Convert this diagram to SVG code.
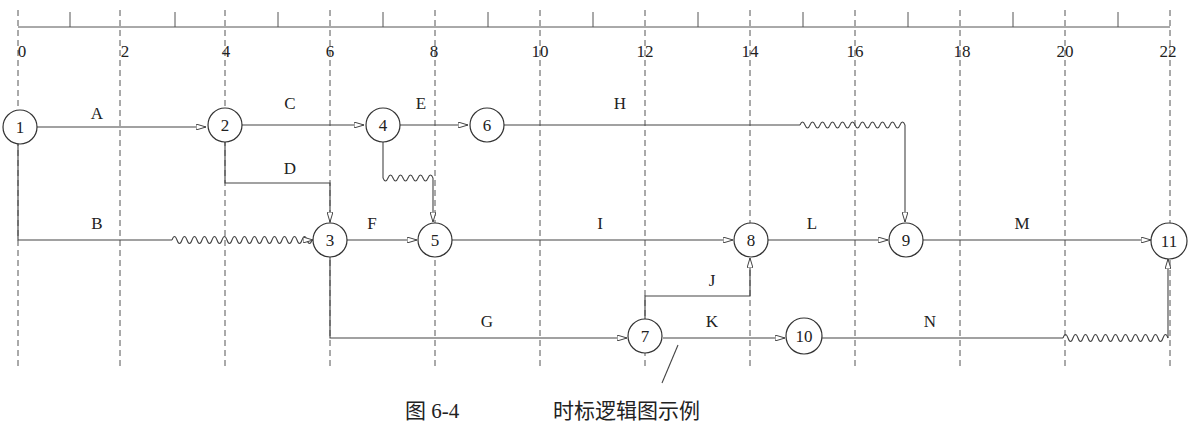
<svg xmlns="http://www.w3.org/2000/svg" width="1195" height="443" viewBox="0 0 1195 443">
<defs>
<marker id="ar" markerWidth="10" markerHeight="6" refX="10" refY="3" orient="auto" markerUnits="userSpaceOnUse"><path d="M0,0 L10,3 L0,6 Z" fill="#fff" stroke="#444" stroke-width="1"/></marker>
</defs>
<style>
.g{stroke:#555;stroke-width:1;stroke-dasharray:6,4;fill:none}
.t{stroke:#555;stroke-width:1;fill:none}
.e{stroke:#444;stroke-width:1.1;fill:none}
.w{stroke:#444;stroke-width:1.1;fill:none}
.n circle{fill:#fff;stroke:#333;stroke-width:1.2}
text{font-family:"Liberation Serif",serif;font-size:17px;fill:#222}
.lb{text-anchor:middle}
.cap{font-family:"Liberation Serif","Noto Sans CJK SC",serif;font-size:21px}
</style>
<rect width="1195" height="443" fill="#fff"/>
<g id="grid">
<path class="t" d="M18,27 H1170"/>
<path class="t" d="M70,12 V27 M175,12 V27 M278,12 V27 M383,12 V27 M488,12 V27 M593,12 V27 M698,12 V27 M803,12 V27 M908,12 V27 M1013,12 V27 M1118,12 V27"/>
<path class="g" d="M18,10 V370 M120,10 V370 M225,10 V370 M330,10 V370 M435,10 V370 M540,10 V370 M645,10 V370 M750,10 V370 M855,10 V370 M960,10 V370 M1065,10 V370 M1170,10 V370"/>
<text x="22" y="57" class="lb">0</text><text x="125" y="57" class="lb">2</text><text x="226" y="57" class="lb">4</text><text x="330" y="57" class="lb">6</text><text x="434" y="57" class="lb">8</text><text x="540" y="57" class="lb">10</text><text x="645" y="57" class="lb">12</text><text x="750" y="57" class="lb">14</text><text x="855" y="57" class="lb">16</text><text x="962" y="57" class="lb">18</text><text x="1065" y="57" class="lb">20</text><text x="1168" y="57" class="lb">22</text>
</g>
<g id="connectors">
<path class="e" d="M37,127 H206" marker-end="url(#ar)"/>
<path class="e" d="M242,125 H364" marker-end="url(#ar)"/>
<path class="e" d="M400,125 H468" marker-end="url(#ar)"/>
<path class="e" d="M504,125 H800"/>
<path class="w" d="M800,125 q2.5,-6 5,0 t5,0 t5,0 t5,0 t5,0 t5,0 t5,0 t5,0 t5,0 t5,0 t5,0 t5,0 t5,0 t5,0 t5,0 t5,0 t5,0 t5,0 t5,0 t5,0 t5,0"/>
<path class="e" d="M905,125 V222" marker-end="url(#ar)"/>
<path class="e" d="M225,142 V183 H330 V222" marker-end="url(#ar)"/>
<path class="e" d="M383,142 V178"/>
<path class="w" d="M383,178 q2.5,6 5,0 t5,0 t5,0 t5,0 t5,0 t5,0 t5,0 t5,0 t5,0 t5,0"/>
<path class="e" d="M433,178 V222" marker-end="url(#ar)"/>
<path class="e" d="M18,144 V240 H172"/>
<path class="w" d="M172,240 q2.5,-7 5,0 t5,0 t5,0 t5,0 t5,0 t5,0 t5,0 t5,0 t5,0 t5,0 t5,0 t5,0 t5,0 t5,0 t5,0 t5,0 t5,0 t5,0 t5,0 t5,0 t5,0 t5,0 t5,0 t5,0 t5,0 t5,0 t5,0 t5,0"/>
<path class="e" d="M312,240 H313" marker-end="url(#ar)"/>
<path class="e" d="M347,240 H417" marker-end="url(#ar)"/>
<path class="e" d="M452,240 H733" marker-end="url(#ar)"/>
<path class="e" d="M768,240 H888" marker-end="url(#ar)"/>
<path class="e" d="M923,240 H1151" marker-end="url(#ar)"/>
<path class="e" d="M330,257 V338 H627" marker-end="url(#ar)"/>
<path class="e" d="M645,320 V296 H750 V258" marker-end="url(#ar)"/>
<path class="e" d="M663,338 H785" marker-end="url(#ar)"/>
<path class="e" d="M821,338 H1063"/>
<path class="w" d="M1063,338 q2.5,-7 5,0 t5,0 t5,0 t5,0 t5,0 t5,0 t5,0 t5,0 t5,0 t5,0 t5,0 t5,0 t5,0 t5,0 t5,0 t5,0 t5,0 t5,0 t5,0 t5,0 t5,0"/>
<path class="e" d="M1168,338 V259" marker-end="url(#ar)"/>
<path class="e" d="M662,383 L678,345"/>
</g>
<g id="labels">
<text x="97" y="119" class="lb">A</text><text x="290" y="109" class="lb">C</text><text x="421" y="109" class="lb">E</text><text x="620" y="109" class="lb">H</text>
<text x="290" y="174" class="lb">D</text><text x="97" y="229" class="lb">B</text><text x="372" y="229" class="lb">F</text><text x="600" y="229" class="lb">I</text>
<text x="812" y="229" class="lb">L</text><text x="1022" y="229" class="lb">M</text><text x="712" y="286" class="lb">J</text><text x="487" y="327" class="lb">G</text>
<text x="712" y="327" class="lb">K</text><text x="930" y="327" class="lb">N</text>
</g>
<g id="n1" class="n"><circle cx="20" cy="127" r="17"/><text x="20" y="133" class="lb">1</text></g>
<g id="n2" class="n"><circle cx="225" cy="125" r="17"/><text x="225" y="131" class="lb">2</text></g>
<g id="n4" class="n"><circle cx="383" cy="125" r="17"/><text x="383" y="131" class="lb">4</text></g>
<g id="n6" class="n"><circle cx="487" cy="125" r="17"/><text x="487" y="131" class="lb">6</text></g>
<g id="n3" class="n"><circle cx="330" cy="240" r="17"/><text x="330" y="246" class="lb">3</text></g>
<g id="n5" class="n"><circle cx="435" cy="240" r="17"/><text x="435" y="246" class="lb">5</text></g>
<g id="n8" class="n"><circle cx="751" cy="240" r="17"/><text x="751" y="246" class="lb">8</text></g>
<g id="n9" class="n"><circle cx="906" cy="240" r="17"/><text x="906" y="246" class="lb">9</text></g>
<g id="n11" class="n"><circle cx="1169" cy="241" r="18"/><text x="1169" y="247" class="lb">11</text></g>
<g id="n7" class="n"><circle cx="645" cy="336" r="17"/><text x="645" y="342" class="lb">7</text></g>
<g id="n10" class="n"><circle cx="804" cy="336" r="18"/><text x="804" y="342" class="lb">10</text></g>
<text x="405" y="418" class="cap">图 6-4</text>
<text x="553" y="418" class="cap">时标逻辑图示例</text>
</svg>
